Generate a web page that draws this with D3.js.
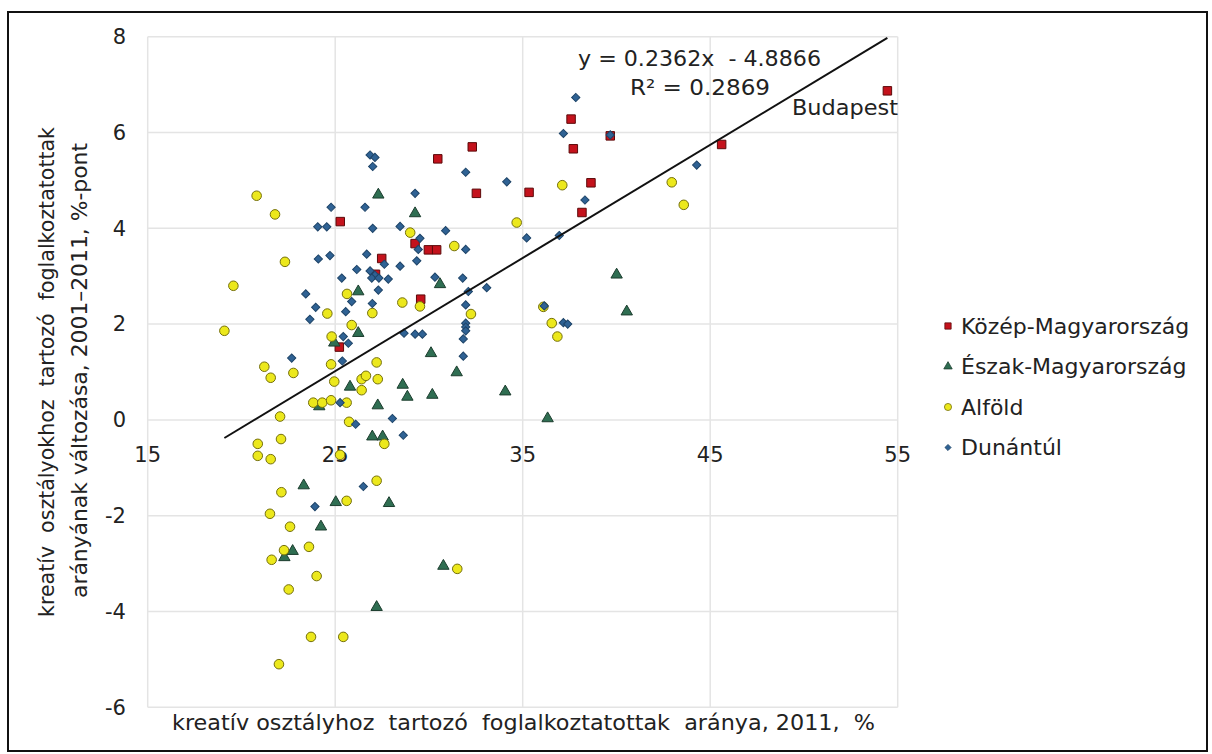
<!DOCTYPE html>
<html>
<head>
<meta charset="utf-8">
<style>
  body { margin: 0; background: #fff; }
  svg text { font-family: "DejaVu Sans", Verdana, sans-serif; fill: #222; }
</style>
</head>
<body>
<div id="chart"></div>
<script src="https://d3js.org/d3.v7.min.js"></script>
<script>
// [x, y] pairs
const kozepMagyarorszag = [
  [25.27, 4.14], [25.22, 1.52], [27.48, 3.37], [27.15, 3.04], [29.26, 3.68],
  [29.56, 2.52], [29.97, 3.55], [30.41, 3.55], [30.47, 5.45], [32.31, 5.70],
  [32.53, 4.73], [35.34, 4.75], [37.58, 6.28], [37.70, 5.66], [38.16, 4.33],
  [38.64, 4.95], [39.67, 5.93], [45.61, 5.75], [54.45, 6.87]
];
const eszakMagyarorszag = [
  [27.30, 4.70], [29.26, 4.31], [26.23, 2.68], [26.23, 1.81], [24.95, 1.61],
  [25.79, 0.69], [27.27, 0.30], [24.15, 0.28], [28.60, 0.73], [28.85, 0.48],
  [26.98, -0.35], [27.53, -0.35], [23.32, -1.37], [30.59, 2.83], [40.01, 3.03],
  [40.55, 2.26], [30.11, 1.39], [31.48, 0.99], [30.18, 0.52], [34.07, 0.59],
  [36.33, 0.03], [25.03, -1.72], [27.87, -1.74], [24.24, -2.23], [22.73, -2.74],
  [22.29, -2.87], [27.21, -3.91], [30.77, -3.05]
];
const alfold = [
  [20.81, 4.68], [21.79, 4.29], [29.00, 3.91], [22.32, 3.30], [19.57, 2.80],
  [25.63, 2.63], [34.68, 4.12], [31.35, 3.63], [28.58, 2.45], [29.52, 2.37],
  [37.11, 4.90], [42.95, 4.96], [43.59, 4.49], [32.24, 2.21], [36.10, 2.36],
  [36.55, 2.02], [36.85, 1.74], [19.09, 1.86], [24.58, 2.22], [26.98, 2.23],
  [25.88, 1.98], [24.81, 1.74], [21.22, 1.11], [21.56, 0.88], [22.77, 0.98],
  [24.78, 1.16], [27.21, 1.20], [24.95, 0.80], [26.41, 0.85], [26.64, 0.92],
  [27.27, 0.85], [26.41, 0.62], [23.83, 0.36], [24.31, 0.36], [24.78, 0.41],
  [25.61, 0.36], [22.06, 0.07], [25.74, -0.04], [22.11, -0.40], [20.87, -0.50],
  [20.87, -0.75], [21.56, -0.82], [27.62, -0.50], [25.26, -0.73], [27.21, -1.27],
  [22.13, -1.51], [25.61, -1.69], [21.52, -1.96], [22.59, -2.23], [22.27, -2.72],
  [21.61, -2.92], [23.60, -2.65], [24.01, -3.26], [22.52, -3.54], [23.71, -4.53],
  [25.43, -4.53], [22.00, -5.10], [31.51, -3.11]
];
const dunantul = [
  [26.86, 5.53], [27.12, 5.48], [27.00, 5.29], [24.78, 4.44], [26.59, 4.44],
  [29.26, 4.73], [24.07, 4.03], [24.55, 4.03], [27.00, 4.00], [28.46, 4.04],
  [24.10, 3.36], [24.72, 3.43], [26.68, 3.46], [26.15, 3.14], [26.86, 3.11],
  [27.12, 3.02], [26.95, 2.96], [25.35, 2.96], [27.30, 2.71], [23.43, 2.63],
  [25.88, 2.47], [23.96, 2.35], [26.98, 2.43], [31.96, 5.17], [34.15, 4.97],
  [30.89, 3.95], [29.52, 3.79], [29.43, 3.56], [31.96, 3.56], [27.62, 3.25],
  [28.46, 3.21], [29.35, 3.32], [27.33, 2.96], [27.83, 2.94], [30.32, 2.98],
  [31.80, 2.96], [33.08, 2.76], [32.10, 2.68], [31.96, 2.40], [35.21, 3.80],
  [37.83, 6.73], [37.17, 5.98], [38.32, 4.59], [44.28, 5.32], [36.95, 3.85],
  [39.67, 5.95], [31.96, 2.02], [31.96, 1.94], [31.96, 1.86], [31.83, 1.69],
  [31.83, 1.33], [28.67, 1.81], [29.26, 1.79], [29.65, 1.79], [36.15, 2.38],
  [37.17, 2.03], [37.40, 2.00], [28.63, -0.32], [28.05, 0.03], [23.65, 2.10],
  [25.56, 2.26], [25.43, 1.74], [25.70, 1.60], [22.68, 1.29], [25.38, 1.23],
  [25.26, 0.36], [26.09, -0.09], [26.50, -1.39], [23.92, -1.81]
];

const seriesNames = ["Közép-Magyarország", "Észak-Magyarország", "Alföld", "Dunántúl"];
const xTicks = [15, 25, 35, 45, 55];
const yTicks = [-6, -4, -2, 0, 2, 4, 6, 8];
const trendSlope = 0.2362, trendIntercept = -4.8866;
const equationText = "y = 0.2362x  - 4.8866";
const r2Text = "R² = 0.2869";
const xTitle = "kreatív osztályhoz  tartozó  foglalkoztatottak  aránya, 2011,  %";
const yTitle1 = "kreatív  osztályokhoz  tartozó  foglalkoztatottak";
const yTitle2 = "arányának változása, 2001–2011, %-pont";

const width = 1212, height = 754;
const svg = d3.select("#chart").append("svg")
    .attr("width", width)
    .attr("height", height);

// outer frame
svg.append("rect")
    .attr("x", 8).attr("y", 12)
    .attr("width", 1199).attr("height", 739)
    .attr("fill", "none")
    .attr("stroke", "#111")
    .attr("stroke-width", 2);

const x = d3.scaleLinear().domain([15, 55]).range([147.7, 897.7]);
const y = d3.scaleLinear().domain([-6, 8]).range([707.3, 36.7]);

// grid
svg.append("g")
    .selectAll("line")
    .data(xTicks)
    .join("line")
    .attr("x1", d => x(d)).attr("x2", d => x(d))
    .attr("y1", y(8)).attr("y2", y(-6))
    .attr("stroke", "#e4e4e4")
    .attr("stroke-width", 1.5);
svg.append("g")
    .selectAll("line")
    .data(yTicks)
    .join("line")
    .attr("x1", x(15)).attr("x2", x(55))
    .attr("y1", d => y(d)).attr("y2", d => y(d))
    .attr("stroke", "#e4e4e4")
    .attr("stroke-width", 1.5);

// tick labels
svg.append("g")
    .selectAll("text")
    .data(yTicks)
    .join("text")
    .attr("x", 126)
    .attr("y", d => y(d))
    .attr("dy", "0.35em")
    .attr("text-anchor", "end")
    .attr("font-size", 21)
    .text(d => d);
svg.append("g")
    .selectAll("text")
    .data(xTicks)
    .join("text")
    .attr("x", d => x(d))
    .attr("y", y(0) + 35)
    .attr("dy", "0.35em")
    .attr("text-anchor", "middle")
    .attr("font-size", 21)
    .text(d => d);

// axis titles
svg.append("text")
    .attr("x", 172)
    .attr("y", 723)
    .attr("dy", "0.35em")
    .attr("font-size", 21)
    .attr("textLength", 703)
    .attr("lengthAdjust", "spacingAndGlyphs")
    .attr("xml:space", "preserve")
    .text(xTitle);
svg.append("text")
    .attr("transform", "translate(47,617) rotate(-90)")
    .attr("dy", "0.35em")
    .attr("font-size", 21)
    .attr("textLength", 490)
    .attr("lengthAdjust", "spacingAndGlyphs")
    .attr("xml:space", "preserve")
    .text(yTitle1);
svg.append("text")
    .attr("transform", "translate(80,598) rotate(-90)")
    .attr("dy", "0.35em")
    .attr("font-size", 21)
    .attr("textLength", 455)
    .attr("lengthAdjust", "spacingAndGlyphs")
    .text(yTitle2);

// markers
const styles = [
  { data: kozepMagyarorszag, type: d3.symbolSquare, size: 72, rot: 0, fill: "#c4121c", stroke: "#5c0a0a" },
  { data: eszakMagyarorszag, type: d3.symbolTriangle, size: 56, rot: 0, fill: "#2f6e52", stroke: "#1c3d2e" },
  { data: alfold, type: d3.symbolCircle, size: 72, rot: 0, fill: "#ece81c", stroke: "#75700c" },
  { data: dunantul, type: d3.symbolSquare, size: 34, rot: 45, fill: "#2f6294", stroke: "#1e4468" }
];

styles.forEach(s => {
  svg.append("g")
      .selectAll("path")
      .data(s.data)
      .join("path")
      .attr("transform", d => `translate(${x(d[0])},${y(d[1])}) rotate(${s.rot})`)
      .attr("d", d3.symbol().type(s.type).size(s.size))
      .attr("fill", s.fill)
      .attr("stroke", s.stroke)
      .attr("stroke-width", 1);
});

// trend line over the data range
const allX = [].concat(kozepMagyarorszag, eszakMagyarorszag, alfold, dunantul).map(d => d[0]);
const [xMin, xMax] = d3.extent(allX);
svg.append("line")
    .attr("x1", x(xMin)).attr("y1", y(trendSlope * xMin + trendIntercept))
    .attr("x2", x(xMax)).attr("y2", y(trendSlope * xMax + trendIntercept))
    .attr("stroke", "#111")
    .attr("stroke-width", 2);

svg.append("text")
    .attr("x", 578).attr("y", 58)
    .attr("dy", "0.35em")
    .attr("font-size", 22)
    .attr("textLength", 243)
    .attr("lengthAdjust", "spacingAndGlyphs")
    .attr("xml:space", "preserve")
    .text(equationText);
svg.append("text")
    .attr("x", 630).attr("y", 87)
    .attr("dy", "0.35em")
    .attr("font-size", 22)
    .attr("textLength", 140)
    .attr("lengthAdjust", "spacingAndGlyphs")
    .text(r2Text);
svg.append("text")
    .attr("x", 792).attr("y", 108)
    .attr("dy", "0.35em")
    .attr("font-size", 21)
    .attr("textLength", 106)
    .attr("lengthAdjust", "spacingAndGlyphs")
    .text("Budapest");

// legend
const legend = svg.append("g")
    .selectAll("g")
    .data(seriesNames)
    .join("g")
    .attr("transform", (d, i) => `translate(948,${326 + i * 40.5})`);
legend.append("path")
    .attr("transform", (d, i) => `rotate(${styles[i].rot})`)
    .attr("d", (d, i) => d3.symbol().type(styles[i].type).size(styles[i].size * 0.55)())
    .attr("fill", (d, i) => styles[i].fill)
    .attr("stroke", (d, i) => styles[i].stroke)
    .attr("stroke-width", 0.8);
legend.append("text")
    .attr("x", 13)
    .attr("dy", "0.35em")
    .attr("font-size", 22)
    .text(d => d);
</script>
</body>
</html>
